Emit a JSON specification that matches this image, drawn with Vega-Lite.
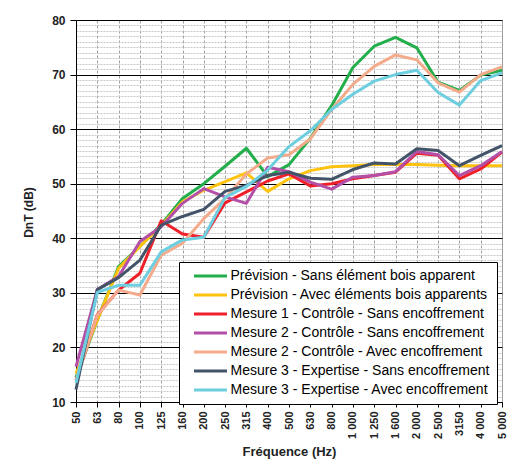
{
  "$schema": "https://vega.github.io/schema/vega-lite/v6.json",
  "width": 426,
  "height": 382,
  "autosize": {"type": "none"},
  "padding": {"left": 76, "top": 20, "right": 21, "bottom": 59},
  "background": "white",
  "config": {"view": {"stroke": "#999999", "strokeWidth": 1}, "font": "Liberation Sans"},
  "data": {"values": [
    {"f": "50", "Prévision - Sans élément bois apparent": 14.5, "Prévision - Avec éléments bois apparents": 15.2, "Mesure 1 - Contrôle - Sans encoffrement": 14, "Mesure 2 - Contrôle - Sans encoffrement": 16.5, "Mesure 2 - Contrôle - Avec encoffrement": 14, "Mesure 3 - Expertise - Sans encoffrement": 12.3, "Mesure 3 - Expertise - Avec encoffrement": 13.5},
    {"f": "63", "Prévision - Sans élément bois apparent": 25, "Prévision - Avec éléments bois apparents": 25, "Mesure 1 - Contrôle - Sans encoffrement": 26, "Mesure 2 - Contrôle - Sans encoffrement": 30.6, "Mesure 2 - Contrôle - Avec encoffrement": 25.9, "Mesure 3 - Expertise - Sans encoffrement": 30.6, "Mesure 3 - Expertise - Avec encoffrement": 30.1},
    {"f": "80", "Prévision - Sans élément bois apparent": 34.8, "Prévision - Avec éléments bois apparents": 34.5, "Mesure 1 - Contrôle - Sans encoffrement": 30.5, "Mesure 2 - Contrôle - Sans encoffrement": 33, "Mesure 2 - Contrôle - Avec encoffrement": 30.5, "Mesure 3 - Expertise - Sans encoffrement": 32.8, "Mesure 3 - Expertise - Avec encoffrement": 31.4},
    {"f": "100", "Prévision - Sans élément bois apparent": 38.5, "Prévision - Avec éléments bois apparents": 38.5, "Mesure 1 - Contrôle - Sans encoffrement": 33.6, "Mesure 2 - Contrôle - Sans encoffrement": 39.4, "Mesure 2 - Contrôle - Avec encoffrement": 29.6, "Mesure 3 - Expertise - Sans encoffrement": 36, "Mesure 3 - Expertise - Avec encoffrement": 31.4},
    {"f": "125", "Prévision - Sans élément bois apparent": 42.5, "Prévision - Avec éléments bois apparents": 42.3, "Mesure 1 - Contrôle - Sans encoffrement": 43.2, "Mesure 2 - Contrôle - Sans encoffrement": 42.1, "Mesure 2 - Contrôle - Avec encoffrement": 36.9, "Mesure 3 - Expertise - Sans encoffrement": 42.4, "Mesure 3 - Expertise - Avec encoffrement": 37.5},
    {"f": "160", "Prévision - Sans élément bois apparent": 47.3, "Prévision - Avec éléments bois apparents": 46.7, "Mesure 1 - Contrôle - Sans encoffrement": 40.8, "Mesure 2 - Contrôle - Sans encoffrement": 46.4, "Mesure 2 - Contrôle - Avec encoffrement": 39.1, "Mesure 3 - Expertise - Sans encoffrement": 44, "Mesure 3 - Expertise - Avec encoffrement": 39.7},
    {"f": "200", "Prévision - Sans élément bois apparent": 50, "Prévision - Avec éléments bois apparents": 48.8, "Mesure 1 - Contrôle - Sans encoffrement": 40.2, "Mesure 2 - Contrôle - Sans encoffrement": 49.1, "Mesure 2 - Contrôle - Avec encoffrement": 43.6, "Mesure 3 - Expertise - Sans encoffrement": 45.3, "Mesure 3 - Expertise - Avec encoffrement": 40.2},
    {"f": "250", "Prévision - Sans élément bois apparent": 53.2, "Prévision - Avec éléments bois apparents": 50.4, "Mesure 1 - Contrôle - Sans encoffrement": 46.5, "Mesure 2 - Contrôle - Sans encoffrement": 47.6, "Mesure 2 - Contrôle - Avec encoffrement": 47.3, "Mesure 3 - Expertise - Sans encoffrement": 48.6, "Mesure 3 - Expertise - Avec encoffrement": 47.5},
    {"f": "315", "Prévision - Sans élément bois apparent": 56.5, "Prévision - Avec éléments bois apparents": 52, "Mesure 1 - Contrôle - Sans encoffrement": 48.5, "Mesure 2 - Contrôle - Sans encoffrement": 46.4, "Mesure 2 - Contrôle - Avec encoffrement": 51.8, "Mesure 3 - Expertise - Sans encoffrement": 49.7, "Mesure 3 - Expertise - Avec encoffrement": 49.5},
    {"f": "400", "Prévision - Sans élément bois apparent": 51.3, "Prévision - Avec éléments bois apparents": 48.6, "Mesure 1 - Contrôle - Sans encoffrement": 50.5, "Mesure 2 - Contrôle - Sans encoffrement": 53, "Mesure 2 - Contrôle - Avec encoffrement": 54.7, "Mesure 3 - Expertise - Sans encoffrement": 51.5, "Mesure 3 - Expertise - Avec encoffrement": 52.5},
    {"f": "500", "Prévision - Sans élément bois apparent": 53.5, "Prévision - Avec éléments bois apparents": 50.9, "Mesure 1 - Contrôle - Sans encoffrement": 51.8, "Mesure 2 - Contrôle - Sans encoffrement": 52.2, "Mesure 2 - Contrôle - Avec encoffrement": 55.3, "Mesure 3 - Expertise - Sans encoffrement": 52.1, "Mesure 3 - Expertise - Avec encoffrement": 56.8},
    {"f": "630", "Prévision - Sans élément bois apparent": 58.3, "Prévision - Avec éléments bois apparents": 52.4, "Mesure 1 - Contrôle - Sans encoffrement": 49.6, "Mesure 2 - Contrôle - Sans encoffrement": 50.3, "Mesure 2 - Contrôle - Avec encoffrement": 58.2, "Mesure 3 - Expertise - Sans encoffrement": 51, "Mesure 3 - Expertise - Avec encoffrement": 59.7},
    {"f": "800", "Prévision - Sans élément bois apparent": 64.3, "Prévision - Avec éléments bois apparents": 53.1, "Mesure 1 - Contrôle - Sans encoffrement": 50, "Mesure 2 - Contrôle - Sans encoffrement": 49, "Mesure 2 - Contrôle - Avec encoffrement": 63.6, "Mesure 3 - Expertise - Sans encoffrement": 50.8, "Mesure 3 - Expertise - Avec encoffrement": 63.6},
    {"f": "1 000", "Prévision - Sans élément bois apparent": 71.3, "Prévision - Avec éléments bois apparents": 53.3, "Mesure 1 - Contrôle - Sans encoffrement": 50.9, "Mesure 2 - Contrôle - Sans encoffrement": 51.2, "Mesure 2 - Contrôle - Avec encoffrement": 68.2, "Mesure 3 - Expertise - Sans encoffrement": 52.6, "Mesure 3 - Expertise - Avec encoffrement": 66.4},
    {"f": "1 250", "Prévision - Sans élément bois apparent": 75.2, "Prévision - Avec éléments bois apparents": 53.5, "Mesure 1 - Contrôle - Sans encoffrement": 51.5, "Mesure 2 - Contrôle - Sans encoffrement": 51.5, "Mesure 2 - Contrôle - Avec encoffrement": 71.5, "Mesure 3 - Expertise - Sans encoffrement": 53.8, "Mesure 3 - Expertise - Avec encoffrement": 68.8},
    {"f": "1 600", "Prévision - Sans élément bois apparent": 76.8, "Prévision - Avec éléments bois apparents": 53.5, "Mesure 1 - Contrôle - Sans encoffrement": 52.1, "Mesure 2 - Contrôle - Sans encoffrement": 52.2, "Mesure 2 - Contrôle - Avec encoffrement": 73.6, "Mesure 3 - Expertise - Sans encoffrement": 53.6, "Mesure 3 - Expertise - Avec encoffrement": 70},
    {"f": "2 000", "Prévision - Sans élément bois apparent": 74.9, "Prévision - Avec éléments bois apparents": 53.5, "Mesure 1 - Contrôle - Sans encoffrement": 55.6, "Mesure 2 - Contrôle - Sans encoffrement": 55.9, "Mesure 2 - Contrôle - Avec encoffrement": 72.7, "Mesure 3 - Expertise - Sans encoffrement": 56.4, "Mesure 3 - Expertise - Avec encoffrement": 70.8},
    {"f": "2 500", "Prévision - Sans élément bois apparent": 68.6, "Prévision - Avec éléments bois apparents": 53.4, "Mesure 1 - Contrôle - Sans encoffrement": 55.2, "Mesure 2 - Contrôle - Sans encoffrement": 55.3, "Mesure 2 - Contrôle - Avec encoffrement": 68.5, "Mesure 3 - Expertise - Sans encoffrement": 56.1, "Mesure 3 - Expertise - Avec encoffrement": 66.7},
    {"f": "3150", "Prévision - Sans élément bois apparent": 67.1, "Prévision - Avec éléments bois apparents": 53.3, "Mesure 1 - Contrôle - Sans encoffrement": 50.9, "Mesure 2 - Contrôle - Sans encoffrement": 51.5, "Mesure 2 - Contrôle - Avec encoffrement": 66.8, "Mesure 3 - Expertise - Sans encoffrement": 53.3, "Mesure 3 - Expertise - Avec encoffrement": 64.4},
    {"f": "4 000", "Prévision - Sans élément bois apparent": 69.9, "Prévision - Avec éléments bois apparents": 53.3, "Mesure 1 - Contrôle - Sans encoffrement": 52.7, "Mesure 2 - Contrôle - Sans encoffrement": 53.3, "Mesure 2 - Contrôle - Avec encoffrement": 70, "Mesure 3 - Expertise - Sans encoffrement": 55.2, "Mesure 3 - Expertise - Avec encoffrement": 68.9},
    {"f": "5 000", "Prévision - Sans élément bois apparent": 70.8, "Prévision - Avec éléments bois apparents": 53.3, "Mesure 1 - Contrôle - Sans encoffrement": 55.8, "Mesure 2 - Contrôle - Sans encoffrement": 55.9, "Mesure 2 - Contrôle - Avec encoffrement": 71.4, "Mesure 3 - Expertise - Sans encoffrement": 57, "Mesure 3 - Expertise - Avec encoffrement": 70.3}
  ]},
  "transform": [
    {"fold": ["Prévision - Sans élément bois apparent", "Prévision - Avec éléments bois apparents", "Mesure 1 - Contrôle - Sans encoffrement", "Mesure 2 - Contrôle - Sans encoffrement", "Mesure 2 - Contrôle - Avec encoffrement", "Mesure 3 - Expertise - Sans encoffrement", "Mesure 3 - Expertise - Avec encoffrement"], "as": ["s", "v"]}
  ],
  "layer": [
    {
      "mark": {"type": "point", "opacity": 0},
      "encoding": {
        "y": {"field": "v", "type": "quantitative", "scale": {"domain": [10, 80], "nice": false, "zero": false},
          "axis": {"orient": "left", "values": [11,12,13,14,15,16,17,18,19,21,22,23,24,25,26,27,28,29,31,32,33,34,35,36,37,38,39,41,42,43,44,45,46,47,48,49,51,52,53,54,55,56,57,58,59,61,62,63,64,65,66,67,68,69,71,72,73,74,75,76,77,78,79],
            "labels": false, "ticks": false, "domain": false, "title": null, "grid": true, "gridColor": "#c8c8c8", "gridDash": [2, 1], "gridWidth": 1}}
      }
    },
    {
      "mark": {"type": "line", "strokeWidth": 3, "strokeJoin": "round"},
      "encoding": {
        "x": {"field": "f", "type": "ordinal", "sort": ["50","63","80","100","125","160","200","250","315","400","500","630","800","1 000","1 250","1 600","2 000","2 500","3150","4 000","5 000"],
          "scale": {"type": "point", "padding": 0},
          "axis": {"title": "Fréquence (Hz)", "labelAngle": 270, "labelFontWeight": "bold", "labelFontSize": 11, "labelColor": "#222222", "grid": true, "gridColor": "#a0a0a0", "gridDash": [3, 2], "domainColor": "black", "tickColor": "black", "tickSize": 5, "labelPadding": 4, "titleFontSize": 13, "titleFontWeight": "bold", "titleColor": "#222222", "titleY": 53, "titleBaseline": "alphabetic"}},
        "y": {"field": "v", "type": "quantitative", "scale": {"domain": [10, 80], "nice": false, "zero": false},
          "axis": {"orient": "left", "title": "DnT (dB)", "values": [10,20,30,40,50,60,70,80], "grid": true, "gridColor": "black", "gridWidth": 1, "domainColor": "black", "tickColor": "black", "tickSize": 6, "labelPadding": 5, "labelFontSize": 12, "labelFontWeight": "bold", "labelColor": "#222222", "titleFontSize": 12, "titleFontWeight": "bold", "titleColor": "#222222", "titleX": -48, "titleY": 192, "titleAlign": "center", "titleBaseline": "middle", "titleAngle": 270}},
        "color": {"field": "s", "type": "nominal",
          "scale": {"domain": ["Prévision - Sans élément bois apparent", "Prévision - Avec éléments bois apparents", "Mesure 1 - Contrôle - Sans encoffrement", "Mesure 2 - Contrôle - Sans encoffrement", "Mesure 2 - Contrôle - Avec encoffrement", "Mesure 3 - Expertise - Sans encoffrement", "Mesure 3 - Expertise - Avec encoffrement"],
            "range": ["#22AE4B", "#FFC20E", "#F0202A", "#B44FA8", "#F4AB8C", "#435469", "#6DCEDF"]},
          "legend": {"orient": "none", "legendX": 103, "legendY": 242, "title": null, "strokeColor": "black", "fillColor": "white", "padding": 7, "symbolType": "M-3.3,0H3.3", "symbolStrokeWidth": 3, "symbolSize": 100, "symbolOffset": 17.5, "labelFontSize": 14, "labelColor": "black", "labelLimit": 400, "rowPadding": 5, "labelOffset": 13}}
      }
    }
  ],
  "resolve": {"axis": {"y": "independent"}}
}
